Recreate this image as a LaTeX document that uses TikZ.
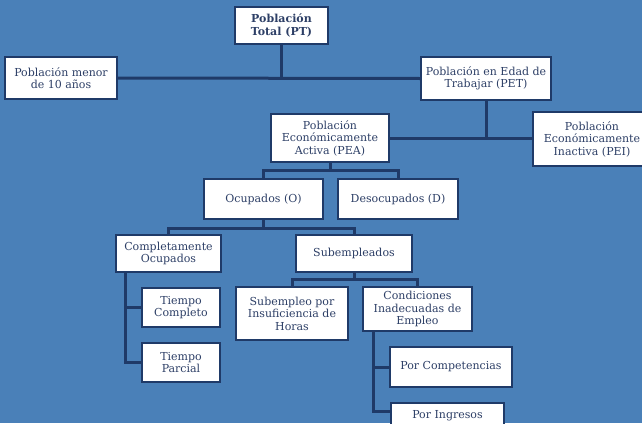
\documentclass[tikz,border=0pt]{standalone}
\usepackage{fontspec}
\setmainfont{DejaVu Serif}
\usetikzlibrary{calc}
\definecolor{bgblue}{HTML}{4A80B8}
\definecolor{navy}{HTML}{1F3A68}
\definecolor{ink}{HTML}{2D3F66}
\tikzset{
  box/.style={draw=navy, line width=2.2pt, fill=white, text=ink, align=center,
    inner sep=0pt, font=\fontsize{11}{12.5}\selectfont},
  link/.style={draw=navy, line width=3pt}
}
\begin{document}
\begin{tikzpicture}[x=1pt,y=-1pt]
\fill[bgblue] (0,0) rectangle (642,423);
\useasboundingbox (0,0) rectangle (642,423);

% boxes
\node[box, minimum width=93, minimum height=37, font=\fontsize{11}{12.5}\selectfont\bfseries] (pt) at (281.5,25.5) {Población\\Total (PT)};
\node[box, minimum width=112, minimum height=42] (menor) at (61,78) {Población menor\\de 10 años};
\node[box, minimum width=130, minimum height=43] (pet) at (486,78.5) {Población en Edad de\\Trabajar (PET)};
\node[box, minimum width=118, minimum height=48] (pea) at (330,138) {Población\\Económicamente\\Activa (PEA)};
\node[box, minimum width=118, minimum height=54] (pei) at (592,139) {Población\\Económicamente\\Inactiva (PEI)};
\node[box, minimum width=119, minimum height=40] (ocup) at (263.5,199) {Ocupados (O)};
\node[box, minimum width=120, minimum height=40] (desoc) at (398,199) {Desocupados (D)};
\node[box, minimum width=105, minimum height=37] (comp) at (168.5,253.5) {Completamente\\Ocupados};
\node[box, minimum width=116, minimum height=37] (sub) at (354,253.5) {Subempleados};
\node[box, minimum width=78, minimum height=39] (tc) at (181,307.5) {Tiempo\\Completo};
\node[box, minimum width=78, minimum height=39] (tp) at (181,362.5) {Tiempo\\Parcial};
\node[box, minimum width=112, minimum height=53] (insuf) at (292,313.5) {Subempleo por\\Insuficiencia de\\Horas};
\node[box, minimum width=109, minimum height=44] (cond) at (417.5,309) {Condiciones\\Inadecuadas de\\Empleo};
\node[box, minimum width=122, minimum height=40] (pc) at (451,367) {Por Competencias};
\node[box, minimum width=113, text height=15pt, text depth=25pt] (pi) at (447.5,423) {Por Ingresos};

% connectors
\draw[link] (pt.south) -- (pt.south |- menor.east);
\draw[link] (menor.east) -- (pet.west);
\draw[link] (pet.south) -- (pet.south |- pea.east);
\draw[link] (pea.east) -- (pea.east -| pei.west);

\coordinate (b1) at ($(pea.south)!.5!(pea.south |- ocup.north)$);
\draw[link] (pea.south) -- (b1);
\draw[link] (ocup.north) |- (b1) -| (desoc.north);

\coordinate (b2) at ($(ocup.south)!.6!(ocup.south |- comp.north)$);
\draw[link] (ocup.south) -- (b2);
\draw[link] (comp.north) |- (b2) -| (sub.north);

\coordinate (b3) at ($(sub.south)!.5!(sub.south |- insuf.north)$);
\draw[link] (sub.south) -- (b3);
\draw[link] (insuf.north) |- (b3) -| (cond.north);

% side branches
\coordinate (c1) at ([xshift=11pt]comp.south west);
\draw[link] (c1) |- (tp.west);
\draw[link] (c1 |- tc.west) -- (tc.west);

\coordinate (c2) at ([xshift=12pt]cond.south west);
\coordinate (pientry) at ([yshift=-10pt]pi.north west);
\draw[link] (c2) |- (pientry);
\draw[link] (c2 |- pc.west) -- (pc.west);
\end{tikzpicture}
\end{document}
